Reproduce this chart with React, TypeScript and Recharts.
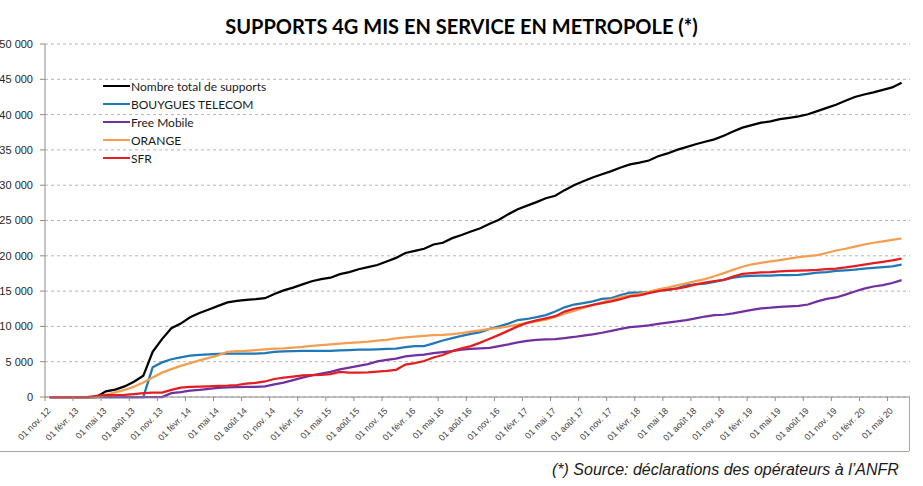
import { LineChart, Line, XAxis, YAxis, CartesianGrid } from 'recharts';

// Quarterly tick labels of the date axis (one every 3 months from nov. 2012)
const quarterLabels = [
  '01 nov. 12', '01 févr. 13', '01 mai 13', '01 août 13',
  '01 nov. 13', '01 févr. 14', '01 mai 14', '01 août 14',
  '01 nov. 14', '01 févr. 15', '01 mai 15', '01 août 15',
  '01 nov. 15', '01 févr. 16', '01 mai 16', '01 août 16',
  '01 nov. 16', '01 févr. 17', '01 mai 17', '01 août 17',
  '01 nov. 17', '01 févr. 18', '01 mai 18', '01 août 18',
  '01 nov. 18', '01 févr. 19', '01 mai 19', '01 août 19',
  '01 nov. 19', '01 févr. 20', '01 mai 20'
];

// Monthly values, nov. 2012 -> juin 2020
const total = [
  0, 0, 0, 0, 0, 0, 800, 1050, 1500, 2150, 3000, 6400, 8200, 9750, 10400, 11300,
  11900, 12400, 12900, 13400, 13600, 13750, 13850, 14000, 14600, 15100, 15500, 15950,
  16400, 16700, 16900, 17400, 17700, 18100, 18400, 18700, 19200, 19700, 20400, 20700,
  21000, 21600, 21850, 22500, 22950, 23450, 23900, 24550, 25100, 25900, 26600, 27100,
  27600, 28150, 28500, 29300, 30000, 30550, 31100, 31550, 32000, 32500, 32950, 33200,
  33500, 34100, 34500, 35000, 35400, 35800, 36150, 36500, 37000, 37600, 38150, 38500,
  38850, 39050, 39350, 39550, 39750, 40050, 40500, 40950, 41400, 41950, 42500, 42850,
  43150, 43500, 43850, 44500
];

const bouygues = [
  0, 0, 0, 0, 0, 0, 0, 0, 0, 0, 0, 4200, 4900, 5350, 5600, 5850,
  5950, 6050, 6100, 6150, 6150, 6150, 6150, 6200, 6400, 6450, 6500, 6550,
  6550, 6550, 6550, 6600, 6650, 6700, 6700, 6750, 6800, 6850, 7050, 7200,
  7200, 7600, 8000, 8350, 8650, 8950, 9200, 9650, 10000, 10400, 10900, 11050,
  11300, 11600, 12100, 12700, 13100, 13300, 13550, 13900, 14000, 14450, 14800, 14800,
  14850, 15150, 15150, 15400, 15800, 15950, 16050, 16300, 16600, 16900, 17100, 17150,
  17200, 17200, 17250, 17250, 17300, 17450, 17600, 17700, 17850, 17950, 18050, 18200,
  18300, 18400, 18500, 18750
];

const free = [
  0, 0, 0, 0, 0, 0, 0, 0, 0, 0, 0, 0, 0, 550, 700, 900,
  1000, 1150, 1280, 1350, 1400, 1420, 1440, 1500, 1800, 2050, 2400, 2750,
  3050, 3300, 3550, 3900, 4150, 4400, 4650, 5050, 5250, 5450, 5750, 5900,
  6000, 6200, 6350, 6500, 6700, 6800, 6880, 6950, 7200, 7450, 7750, 7950,
  8100, 8150, 8200, 8350, 8500, 8700, 8880, 9100, 9380, 9650, 9900, 10020,
  10150, 10350, 10550, 10700, 10900, 11150, 11400, 11600, 11650, 11850, 12100, 12350,
  12550, 12650, 12780, 12850, 12900, 13100, 13550, 13900, 14100, 14500, 14950, 15350,
  15650, 15850, 16150, 16550
];

const orange = [
  0, 0, 0, 0, 0, 0, 300, 650, 1000, 1450, 2050, 2750, 3450, 3950, 4400, 4800,
  5200, 5550, 5900, 6400, 6500, 6550, 6650, 6750, 6850, 6900, 7000, 7100,
  7250, 7350, 7450, 7550, 7650, 7750, 7850, 8000, 8100, 8300, 8450, 8550,
  8650, 8750, 8800, 8900, 9050, 9250, 9450, 9650, 9800, 10000, 10250, 10500,
  10700, 10950, 11350, 11800, 12200, 12600, 13000, 13400, 13800, 14150, 14400, 14600,
  14900, 15250, 15500, 15800, 16100, 16400, 16700, 17100, 17550, 18000, 18450, 18800,
  19000, 19200, 19400, 19600, 19800, 19950, 20100, 20400, 20750, 21000, 21300, 21600,
  21850, 22050, 22250, 22450
];

const sfr = [
  0, 0, 0, 0, 0, 150, 250, 280, 300, 420, 550, 620, 620, 1000, 1330, 1420,
  1470, 1520, 1580, 1600, 1700, 1900, 2000, 2200, 2550, 2750, 2900, 3050,
  3100, 3150, 3250, 3550, 3450, 3440, 3480, 3600, 3700, 3850, 4600, 4800,
  5100, 5600, 5950, 6500, 6900, 7200, 7700, 8250, 8800, 9400, 10000, 10500,
  10850, 11150, 11450, 12100, 12500, 12750, 13050, 13300, 13550, 13850, 14250, 14400,
  14700, 15000, 15200, 15350, 15600, 15950, 16200, 16400, 16600, 17050, 17450, 17550,
  17650, 17700, 17800, 17850, 17900, 17950, 18000, 18100, 18200, 18350, 18550, 18750,
  18950, 19150, 19350, 19600
];

const series = [
  { key: 'total', name: 'Nombre total de supports', color: '#000000' },
  { key: 'bouygues', name: 'BOUYGUES TELECOM', color: '#1F78B8' },
  { key: 'free', name: 'Free Mobile', color: '#7030A0' },
  { key: 'orange', name: 'ORANGE', color: '#F59D4E' },
  { key: 'sfr', name: 'SFR', color: '#E41E1E' }
];

// one row per month, plotted in the middle of its month on the date axis
const data = total.map((v, i) => ({
  t: i + 0.5,
  total: v,
  bouygues: bouygues[i],
  free: free[i],
  orange: orange[i],
  sfr: sfr[i]
}));

const xTicks = quarterLabels.map((_, k) => k * 3);
const yTicks = [0, 5000, 10000, 15000, 20000, 25000, 30000, 35000, 40000, 45000, 50000];

const fmtThousands = (v: number) =>
  v >= 1000 ? `${Math.floor(v / 1000)} ${String(v % 1000).padStart(3, '0')}` : String(v);

const DateTick = (props: any) => {
  const { x, y, payload } = props;
  const px = x + 6;
  const py = y + 8.5;
  return (
    <text
      x={px}
      y={py}
      transform={`rotate(-45, ${px}, ${py})`}
      textAnchor="end"
      fontSize={9}
      fill="#404040"
      fontFamily="'Liberation Sans', Arial, sans-serif"
    >
      {quarterLabels[Math.round(payload.value / 3)]}
    </text>
  );
};

export default function App() {
  return (
    <div
      style={{
        position: 'absolute',
        left: 0,
        top: 0,
        width: 923,
        height: 486,
        background: '#fff',
        overflow: 'hidden',
        fontFamily: "'Liberation Sans', Arial, sans-serif"
      }}
    >
      {/* Title */}
      <div
        style={{
          position: 'absolute',
          left: 0,
          top: 14,
          width: 923,
          textAlign: 'center',
          fontFamily: 'Lato, sans-serif',
          fontWeight: 700,
          fontSize: 20,
          color: '#000'
        }}
      >
        SUPPORTS 4G MIS EN SERVICE EN METROPOLE (*)
      </div>

      <LineChart width={923} height={486} margin={{ top: 44, right: 13, left: 0, bottom: 29 }} data={data}>
        <CartesianGrid vertical={false} stroke="#b4b4b4" strokeDasharray="3 3" />
        <XAxis
          dataKey="t"
          type="number"
          domain={[0, 92.4]}
          ticks={xTicks}
          interval={0}
          height={60}
          tickSize={4}
          tickMargin={2}
          axisLine={{ stroke: '#8c8c8c' }}
          tickLine={{ stroke: '#8c8c8c' }}
          tick={<DateTick />}
        />
        <YAxis
          domain={[0, 50000]}
          ticks={yTicks}
          interval={0}
          width={45}
          tickSize={5}
          tickMargin={7}
          tickFormatter={fmtThousands}
          axisLine={{ stroke: '#8c8c8c' }}
          tickLine={{ stroke: '#8c8c8c' }}
          tick={{ fontSize: 11, fill: '#262626', fontFamily: "'Liberation Sans', Arial, sans-serif" }}
        />
        {series.map(s => (
          <Line
            key={s.key}
            type="linear"
            dataKey={s.key}
            name={s.name}
            stroke={s.color}
            strokeWidth={2.25}
            dot={false}
            activeDot={false}
            isAnimationActive={false}
          />
        ))}
      </LineChart>

      {/* Legend */}
      <div style={{ position: 'absolute', left: 103, top: 77 }}>
        {series.map(s => (
          <div key={s.key} style={{ display: 'flex', alignItems: 'center', height: 18 }}>
            <span style={{ display: 'inline-block', width: 27, height: 2.5, background: s.color }} />
            <span style={{ fontFamily: 'Lato, sans-serif', fontSize: 12, color: '#1a1a1a', marginLeft: 1 }}>
              {s.name}
            </span>
          </div>
        ))}
      </div>

      {/* Frame bottom / right */}
      <div style={{ position: 'absolute', left: 0, top: 451, width: 909, borderTop: '1px solid #a6a6a6' }} />
      <div style={{ position: 'absolute', left: 909, top: 397, height: 54, borderLeft: '1px solid #a6a6a6' }} />

      {/* Source */}
      <div
        style={{
          position: 'absolute',
          left: 552,
          top: 461,
          fontSize: 16,
          fontStyle: 'italic',
          color: '#1a1a1a'
        }}
      >
        (*) Source: déclarations des opérateurs à l’ANFR
      </div>
    </div>
  );
}
